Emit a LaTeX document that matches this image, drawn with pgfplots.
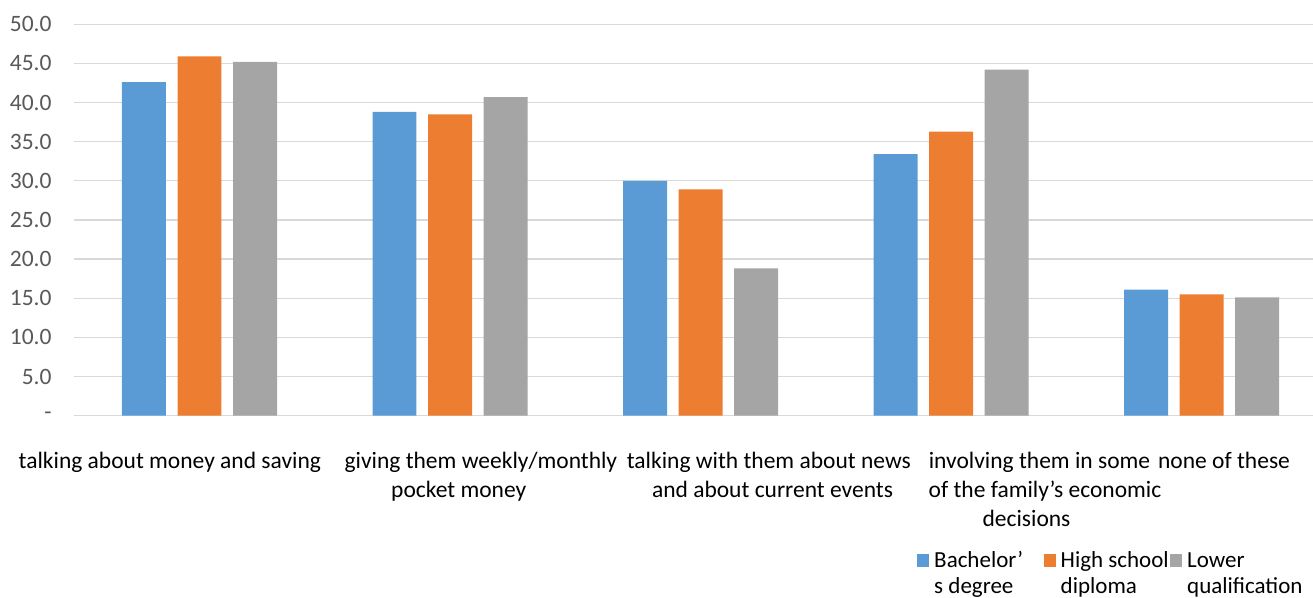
\documentclass[border=0pt]{standalone}
\usepackage{pgfplots}
\pgfplotsset{compat=1.18}
\usepackage{fontspec}
\setmainfont{Carlito}
\definecolor{cBlue}{HTML}{5B9BD5}
\definecolor{cOrange}{HTML}{ED7D31}
\definecolor{cGray}{HTML}{A5A5A5}
\definecolor{cGrid}{HTML}{D9D9D9}
\definecolor{cTick}{HTML}{595959}
% one line of a category label: #1 horizontal offset (pt), #2 text, #3 vertical raise
\newcommand{\Ln}[3]{\makebox[0pt]{\raisebox{#3}{\kern#1pt\makebox[0pt]{#2}\kern-#1pt}}}
% two-line legend text in a fixed-width cell
\newcommand{\lgd}[2]{\makebox[107.5pt][l]{\rlap{\raisebox{-26pt}[0pt][0pt]{#2}}\raisebox{0pt}[18pt][0pt]{#1}}}
\begin{document}
\begin{tikzpicture}[x=1pt,y=1pt]
\path[use as bounding box] (0,0) rectangle (1313,597);
\begin{axis}[
  at={(74.25pt,181.4pt)}, anchor=south west,
  scale only axis, width=1238.75pt, height=391.3pt,
  xmin=-0.5, xmax=4.4451, ymin=0, ymax=50,
  axis line style={draw=none}, tick style={draw=none},
  ymajorgrids, grid style={draw=cGrid, line width=1.3pt},
  ytick={0,5,...,50},
  yticklabels={-,5.0,10.0,15.0,20.0,25.0,30.0,35.0,40.0,45.0,50.0},
  yticklabel style={anchor=east, inner sep=0pt, xshift=-22.5pt,
    font=\fontsize{23.5}{28}\selectfont, text=cTick},
  xtick={0,1,2,3,4},
  xticklabels={
    {\Ln{-29.65}{talking about money and saving}{0pt}},
    {\Ln{30.85}{giving them weekly/monthly}{0pt}\Ln{8.7}{pocket money}{-29pt}},
    {\Ln{68.35}{talking with them about news}{0pt}\Ln{72}{and about current events}{-29pt}},
    {\Ln{88.5}{involving them in some}{0pt}\Ln{94}{of the family’s economic}{-29pt}\Ln{75.5}{decisions}{-58pt}},
    {\Ln{22.5}{none of these}{0pt}}
  },
  xticklabel style={anchor=base, inner sep=0pt, yshift=-52.7pt,
    font=\fontsize{23.5}{28}\selectfont, text=black},
  legend columns=3,
  legend style={draw=none, fill=none, inner sep=0pt, outer sep=0pt,
    at={(0.6805,-0.3376)}, anchor=north west,
    font=\fontsize{23}{26}\selectfont, text=black,
    cells={anchor=base west, inner sep=0pt},
    /tikz/every odd column/.append style={column sep=3pt}},
]
\addplot[ybar, bar width=0.1756, bar shift=-0.2216, fill=cBlue, draw=none,
  legend image code/.code={\path[fill=cBlue] (0pt,0.7pt) rectangle (12pt,13.3pt);}]
  coordinates {(0,42.6) (1,38.8) (2,30.0) (3,33.4) (4,16.1)};
\addlegendentry{\lgd{Bachelor’}{s degree}}
\addplot[ybar, bar width=0.1756, bar shift=0, fill=cOrange, draw=none,
  legend image code/.code={\path[fill=cOrange] (0pt,0.7pt) rectangle (12pt,13.3pt);}]
  coordinates {(0,45.9) (1,38.5) (2,28.9) (3,36.3) (4,15.5)};
\addlegendentry{\lgd{High school}{diploma}}
\addplot[ybar, bar width=0.1756, bar shift=0.2216, fill=cGray, draw=none,
  legend image code/.code={\path[fill=cGray] (0pt,0.7pt) rectangle (12pt,13.3pt);}]
  coordinates {(0,45.2) (1,40.7) (2,18.8) (3,44.2) (4,15.1)};
\addlegendentry{\lgd{Lower}{qualification}}
\end{axis}
\end{tikzpicture}
\end{document}
